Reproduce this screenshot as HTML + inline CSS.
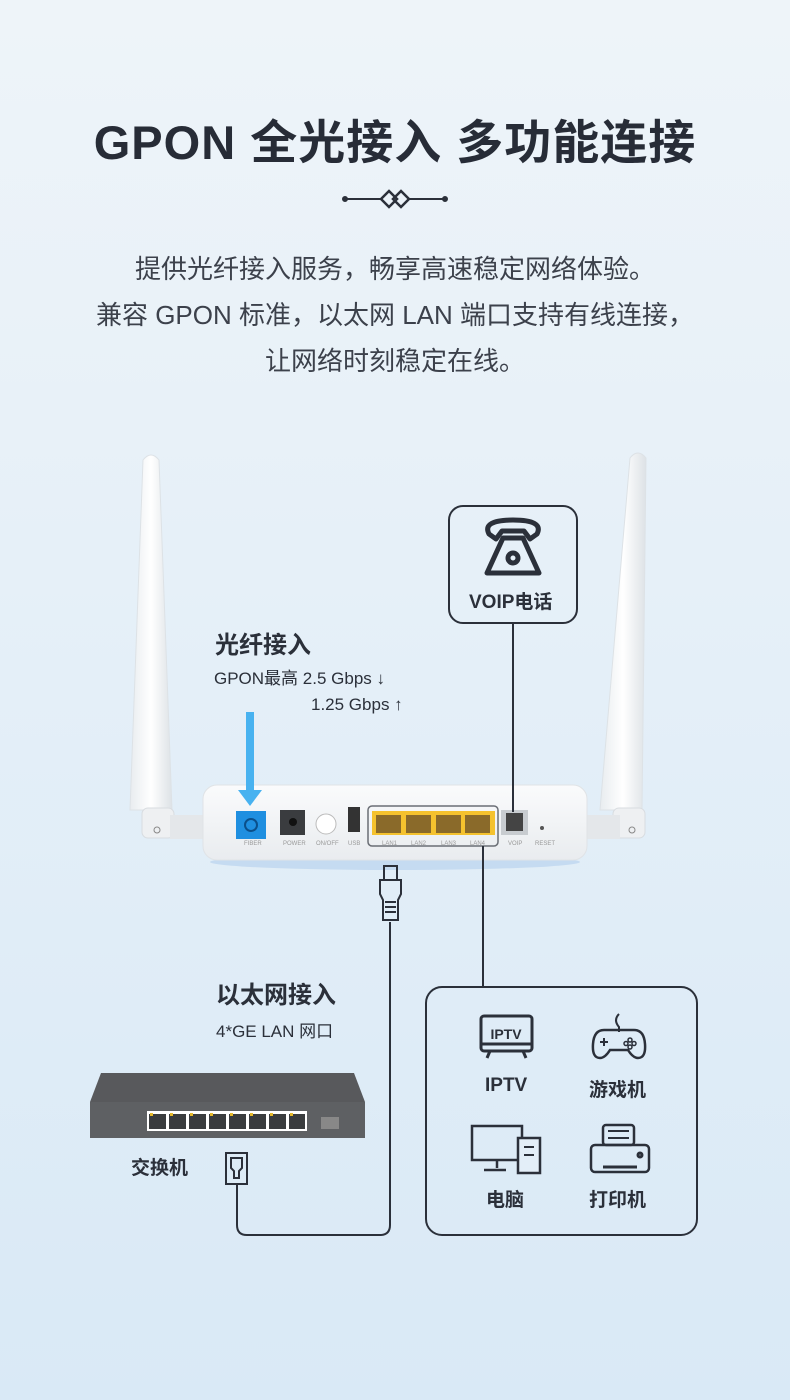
<!DOCTYPE html>
<html><head><meta charset="utf-8"><style>
body{margin:0}
#p{position:relative;width:790px;height:1400px;overflow:hidden;background:linear-gradient(#eef4f9 0%,#e6f0f8 40%,#d9e9f6 100%);font-family:"Liberation Sans","Noto Sans CJK SC",sans-serif;color:#2b303a}
.t{position:absolute;white-space:nowrap}
</style></head><body><div id="p">
<div class="t" style="left:0;width:790px;top:104px;text-align:center;font-size:47px;font-weight:bold;color:#272c37;letter-spacing:1px">GPON 全光接入 多功能连接</div>
<div class="t" style="left:0;width:790px;top:246px;text-align:center;font-size:26px;line-height:46px;color:#3c414b">提供光纤接入服务，畅享高速稳定网络体验。<br>兼容 GPON 标准，以太网 LAN 端口支持有线连接，<br>让网络时刻稳定在线。</div>
<svg class="t" style="left:0;top:0" width="790" height="1400">
<g stroke="#2b303a" stroke-width="2" fill="none">
<line x1="345" y1="199" x2="382" y2="199"/><line x1="408" y1="199" x2="445" y2="199"/>
<circle cx="345" cy="199" r="2" fill="#2b303a"/><circle cx="445" cy="199" r="2" fill="#2b303a"/>
<path d="M381 199l8-8 8 8-8 8z M393 199l8-8 8 8-8 8z" stroke-width="2.5"/>
</g>
<defs><linearGradient id="a" x1="0" x2="1"><stop offset="0" stop-color="#e8ecef"/><stop offset=".5" stop-color="#fff"/><stop offset="1" stop-color="#dde2e6"/></linearGradient>
<linearGradient id="r" x1="0" y1="0" x2="0" y2="1"><stop offset="0" stop-color="#fafbfc"/><stop offset="1" stop-color="#e9ecef"/></linearGradient></defs>
<path d="M143 460q8-10 16 0l13 350h-42z" fill="url(#a)" stroke="#dde2e6"/>
<rect x="142" y="808" width="32" height="30" rx="6" fill="#eef0f2" stroke="#d8dce0"/>
<circle cx="157" cy="830" r="3" fill="none" stroke="#888"/>
<path d="M630 458q8-10 16 0l-4 352h-42z" fill="url(#a)" stroke="#dde2e6"/>
<rect x="613" y="808" width="32" height="30" rx="6" fill="#eef0f2" stroke="#d8dce0"/>
<circle cx="632" cy="830" r="3" fill="none" stroke="#888"/>
<rect x="170" y="815" width="40" height="24" fill="#e4e7ea"/><rect x="580" y="815" width="40" height="24" fill="#e4e7ea"/>
<ellipse cx="395" cy="862" rx="185" ry="8" fill="#b9d3ee" opacity=".7"/>
<rect x="203" y="785" width="384" height="75" rx="14" fill="url(#r)" stroke="#e0e3e6"/>
<rect x="236" y="811" width="30" height="28" fill="#1f8fe0"/><circle cx="251" cy="825" r="6" fill="none" stroke="#0b4f8a" stroke-width="2"/>
<rect x="280" y="810" width="25" height="25" fill="#3a3c3f"/><circle cx="293" cy="822" r="4" fill="#111"/>
<circle cx="326" cy="824" r="10" fill="#fff" stroke="#bbb"/>
<rect x="348" y="807" width="12" height="25" fill="#333"/>
<rect x="368" y="806" width="130" height="40" rx="4" fill="none" stroke="#6a6e75" stroke-width="1.5"/>
<rect x="372" y="811" width="123" height="24" fill="#f5c22e"/>
<g fill="#8a6a2a"><rect x="376" y="815" width="25" height="18"/><rect x="406" y="815" width="25" height="18"/><rect x="436" y="815" width="25" height="18"/><rect x="465" y="815" width="25" height="18"/></g>
<rect x="501" y="810" width="27" height="25" fill="#c8ccd0"/><rect x="506" y="813" width="17" height="18" fill="#444"/>
<circle cx="542" cy="828" r="2" fill="#555"/>
<g font-size="6" fill="#999" font-family="Liberation Sans"><text x="244" y="845">FIBER</text><text x="283" y="845">POWER</text><text x="316" y="845">ON/OFF</text><text x="348" y="845">USB</text><text x="382" y="845">LAN1</text><text x="411" y="845">LAN2</text><text x="441" y="845">LAN3</text><text x="470" y="845">LAN4</text><text x="508" y="845">VOIP</text><text x="535" y="845">RESET</text></g>
<rect x="246" y="712" width="8" height="80" fill="#48b2f0"/><path d="M238 790h24l-12 16z" fill="#48b2f0"/>
<rect x="449" y="506" width="128" height="117" rx="14" fill="none" stroke="#2b303a" stroke-width="2"/>
<g stroke="#2b303a" stroke-width="5" fill="none" stroke-linejoin="round"><path d="M489 534q-7-14 24-14t24 14l-7 5-6-8h-22l-6 8z"/><path d="M503 538h20l16 35h-52z"/><circle cx="513" cy="558" r="5"/></g>
<line x1="513" y1="623" x2="513" y2="812" stroke="#2b303a" stroke-width="2"/>
<line x1="483" y1="846" x2="483" y2="987" stroke="#2b303a" stroke-width="2"/>
<rect x="426" y="987" width="271" height="248" rx="16" fill="none" stroke="#2b303a" stroke-width="2"/>
<g stroke="#2b303a" stroke-width="2" fill="none"><rect x="384" y="866" width="13" height="14"/><path d="M380 880h21v14l-3 6v20h-15v-20l-3-6z"/><line x1="385" y1="902" x2="396" y2="902"/><line x1="385" y1="907" x2="396" y2="907"/><line x1="385" y1="912" x2="396" y2="912"/>
<path d="M390 922v303q0 10-10 10h-133q-10 0-10-10v-40"/>
<rect x="226" y="1153" width="21" height="31"/><path d="M231 1158h11v10l-3 3v7h-5v-7l-3-3z"/></g>
<path d="M101 1073h253l11 29h-275z" fill="#58595c"/>
<rect x="90" y="1102" width="275" height="36" fill="#5e6063"/>
<rect x="147" y="1111" width="160" height="20" fill="#fff"/>
<g fill="#3a3c3e"><rect x="149" y="1114" width="17" height="15"/><rect x="169" y="1114" width="17" height="15"/><rect x="189" y="1114" width="17" height="15"/><rect x="209" y="1114" width="17" height="15"/><rect x="229" y="1114" width="17" height="15"/><rect x="249" y="1114" width="17" height="15"/><rect x="269" y="1114" width="17" height="15"/><rect x="289" y="1114" width="16" height="15"/></g>
<g fill="#e6b92a"><rect x="150" y="1113" width="3" height="3"/><rect x="170" y="1113" width="3" height="3"/><rect x="190" y="1113" width="3" height="3"/><rect x="210" y="1113" width="3" height="3"/><rect x="230" y="1113" width="3" height="3"/><rect x="250" y="1113" width="3" height="3"/><rect x="270" y="1113" width="3" height="3"/><rect x="290" y="1113" width="3" height="3"/></g>
<rect x="321" y="1117" width="18" height="12" fill="#888"/>
<g stroke="#2b303a" stroke-width="3" fill="none">
<rect x="481" y="1016" width="51" height="35" rx="3"/><path d="M481 1044h51M490 1051l-3 7M523 1051l3 7"/>
<path d="M619 1014q-6 6 0 13v5" stroke-width="2"/><path d="M604 1030h30q10 0 11 14 1 14-7 14-5 0-10-8h-18q-5 8-10 8-8 0-7-14 1-14 11-14z" stroke-width="2.5"/>
<path d="M600 1042h8M604 1038v8" stroke-width="2"/><circle cx="630" cy="1040" r="2" stroke-width="1.5"/><circle cx="630" cy="1047" r="2" stroke-width="1.5"/><circle cx="626" cy="1043.5" r="2" stroke-width="1.5"/><circle cx="634" cy="1043.5" r="2" stroke-width="1.5"/>
<rect x="472" y="1126" width="50" height="34" stroke-width="2.5"/><path d="M497 1160v8M484 1170h22" stroke-width="2.5"/><rect x="518" y="1138" width="22" height="35" fill="#e3eef8" stroke-width="2.5"/><path d="M524 1147h10M524 1155h10" stroke-width="2"/>
<rect x="603" y="1125" width="31" height="20" rx="3" stroke-width="2.5"/><path d="M608 1131h21M608 1138h21" stroke-width="2"/><rect x="591" y="1145" width="58" height="27" rx="4" stroke-width="2.5"/><path d="M603 1167h34"/><circle cx="640" cy="1155" r="2"/>
</g>
<text x="506" y="1039" font-size="14" font-weight="bold" fill="#2b303a" text-anchor="middle" font-family="Liberation Sans">IPTV</text>
</svg>
<div class="t" style="left:215px;top:625px;font-size:24px;font-weight:bold">光纤接入</div>
<div class="t" style="left:214px;top:664px;font-size:17px">GPON最高 2.5 Gbps ↓</div>
<div class="t" style="left:311px;top:695px;font-size:17px">1.25 Gbps ↑</div>
<div class="t" style="left:469px;top:587px;font-size:19px;font-weight:bold">VOIP电话</div>
<div class="t" style="left:216px;top:975px;font-size:24px;font-weight:bold">以太网接入</div>
<div class="t" style="left:216px;top:1017px;font-size:17px">4*GE LAN 网口</div>
<div class="t" style="left:131px;top:1153px;font-size:19px;font-weight:bold">交换机</div>
<div class="t" style="left:485px;top:1075px;font-size:19px;font-weight:bold">IPTV</div>
<div class="t" style="left:589px;top:1075px;font-size:19px;font-weight:bold">游戏机</div>
<div class="t" style="left:486px;top:1185px;font-size:19px;font-weight:bold">电脑</div>
<div class="t" style="left:589px;top:1185px;font-size:19px;font-weight:bold">打印机</div>
</div></body></html>
